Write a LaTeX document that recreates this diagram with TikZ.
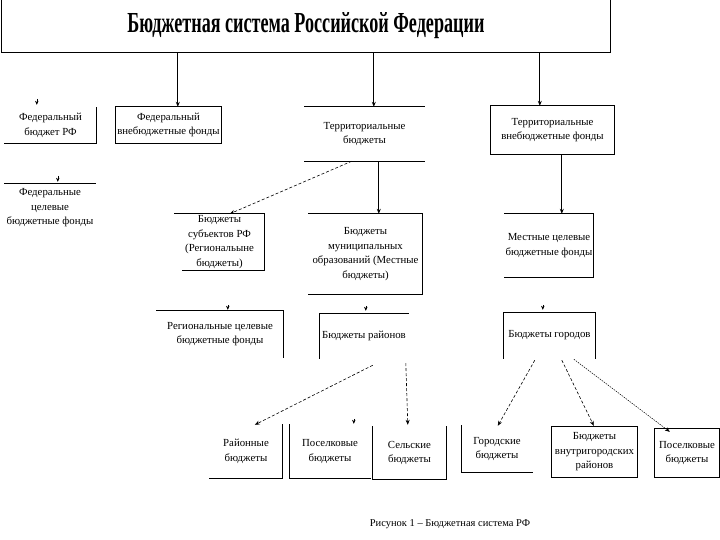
\documentclass[tikz,border=0pt]{standalone}
\usepackage{fontspec}
\setmainfont{Liberation Serif}
\usetikzlibrary{arrows.meta,calc}
\newcommand\mkbox[6]{\node[box,minimum width={(#4)-(#2)},minimum height={(#5)-(#3)}] (#1) at ({((#2)+(#4))/2},{((#3)+(#5))/2}) {#6};}
\newcommand\sT[1]{\draw[side] (#1.north west) -- (#1.north east);}
\newcommand\sB[1]{\draw[side] (#1.south west) -- (#1.south east);}
\newcommand\sL[1]{\draw[side] (#1.north west) -- (#1.south west);}
\newcommand\sR[1]{\draw[side] (#1.north east) -- (#1.south east);}
\newcommand\sF[1]{\draw[side] (#1.north west) rectangle (#1.south east);}
\begin{document}
\begin{tikzpicture}[x=1pt,y=-1pt,
  side/.style={line width=1pt,line cap=rect},
  box/.style={inner sep=0pt,align=center,font=\fontsize{10.8}{14.5}\selectfont},
  arr/.style={line width=0.8pt,-{Stealth[length=5pt,width=4pt]}},
  darr/.style={line width=0.6pt,dash pattern=on 3pt off 2pt,-{Stealth[length=5pt,width=4pt]}},
  tarr/.style={line width=0.5pt,dash pattern=on 1.5pt off 1pt,-{Stealth[length=5pt,width=4pt]}},
  lone/.style={line width=0.5pt,-{Stealth[length=4pt,width=3.5pt]}}]
\useasboundingbox[fill=white] (0,0) rectangle (720,540);

% title
\node[inner sep=0pt,minimum width=608,minimum height=52] (title) at (306,26)
  {\resizebox{357pt}{20pt}{\bfseries Бюджетная система Российской Федерации}};
\draw[side] (title.north west) rectangle (title.south east);

% boxes
\mkbox{fedbud}{5}{108}{96}{143}{Федеральный\\бюджет РФ}
\mkbox{fedvne}{116}{107}{221}{143}{Федеральный\\внебюджетные фонды}
\mkbox{terbud}{305}{107}{424}{161}{Территориальные\\бюджеты}
\mkbox{tervne}{491}{106}{614}{154}{Территориальные\\внебюджетные фонды}
\mkbox{fedcel}{5}{184}{95}{232}{Федеральные\\целевые\\бюджетные фонды}
\mkbox{subj}{175}{214}{264}{270}{Бюджеты\\субъектов РФ\\(Региональыне\\бюджеты)}
\mkbox{mun}{309}{214}{422}{294}{Бюджеты\\муниципальных\\образований (Местные\\бюджеты)}
\mkbox{mest}{505}{214}{593}{277}{Местные целевые\\бюджетные фонды}
\mkbox{regcel}{157}{311}{283}{357}{Региональные целевые\\бюджетные фонды}
\mkbox{rayon}{320}{314}{408}{358}{Бюджеты районов}
\mkbox{gorod}{504}{313}{595}{358}{Бюджеты городов}
\mkbox{raybud}{210}{425}{282}{478}{Районные\\бюджеты}
\mkbox{posa}{290}{425}{370}{478}{Поселковые\\бюджеты}
\mkbox{sel}{373}{427}{446}{479}{Сельские\\бюджеты}
\mkbox{gorbud}{462}{426}{532}{472}{Городские\\бюджеты}
\mkbox{vnutr}{552}{427}{637}{477}{Бюджеты\\внутригородских\\районов}
\mkbox{posb}{655}{429}{719}{477}{Поселковые\\бюджеты}

% box sides as printed
\sB{fedbud}\sR{fedbud}
\sF{fedvne}
\sT{terbud}\sB{terbud}
\sF{tervne}
\sT{fedcel}
\sT{subj}\sR{subj}\draw[side] ($(subj.south west)+(8,0)$) -- (subj.south east);
\sT{mun}\sR{mun}\sB{mun}
\sT{mest}\sR{mest}\sB{mest}
\sT{regcel}\sR{regcel}
\sT{rayon}\sL{rayon}
\sT{gorod}\sL{gorod}\sR{gorod}
\sR{raybud}\sB{raybud}
\sL{posa}\sB{posa}
\sL{sel}\sB{sel}\sR{sel}
\sL{gorbud}\sB{gorbud}
\sF{vnutr}
\sF{posb}

% connectors
\draw[arr] ($(title.south west)+(176,0)$) -- ($(fedvne.north west)+(62,0)$);
\draw[arr] ($(title.south west)+(372,0)$) -- ($(terbud.north west)+(69,0)$);
\draw[arr] ($(title.south west)+(538,0)$) -- ($(tervne.north west)+(49,0)$);
\draw[arr] ($(tervne.south west)+(71,0)$) -- ($(mest.north west)+(57,0)$);
\draw[darr] ($(terbud.south west)+(47,0)$) -- ($(subj.north west)+(55,0)$);
\draw[arr] ($(terbud.south west)+(74,0)$) -- ($(mun.north west)+(70,0)$);
\draw[darr] ($(rayon.south west)+(53,7)$) -- ($(raybud.north west)+(45,0)$);
\draw[darr] ($(rayon.south west)+(86,5)$) -- ($(sel.north west)+(35,-2)$);
\draw[darr] ($(gorod.south west)+(31,2)$) -- ($(gorbud.north west)+(36,0)$);
\draw[darr] ($(gorod.south west)+(58,2)$) -- ($(vnutr.north west)+(42,-1)$);
\draw[tarr] ($(gorod.south west)+(70,1)$) -- ($(posb.north west)+(15,3)$);

% lone arrow tips
\draw[lone] ($(fedbud.north west)+(32,-9)$) -- ($(fedbud.north west)+(32,-3)$);
\draw[lone] ($(fedcel.north west)+(53,-8)$) -- ($(fedcel.north west)+(53,-2)$);
\draw[lone] ($(regcel.north west)+(71,-6)$) -- ($(regcel.north west)+(71,-1)$);
\draw[lone] ($(rayon.north west)+(46,-8)$) -- ($(rayon.north west)+(46,-3)$);
\draw[lone] ($(gorod.north west)+(39,-8)$) -- ($(gorod.north west)+(39,-3)$);
\draw[lone] ($(posa.north west)+(64,-6)$) -- ($(posa.north west)+(64,-1)$);

% caption
\node[font=\fontsize{10.5}{13}\selectfont,inner sep=0pt] (cap) at (450,524) {Рисунок 1 – Бюджетная система РФ};
\end{tikzpicture}
\end{document}
